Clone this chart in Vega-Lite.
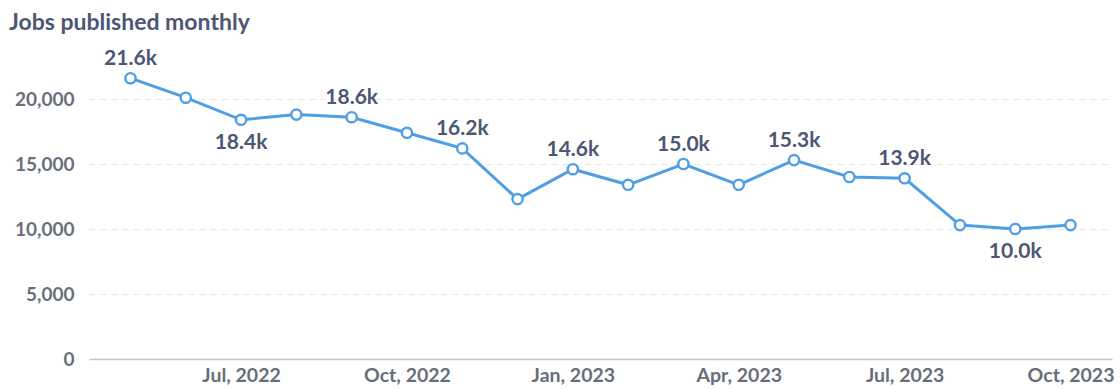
{
  "$schema": "https://vega.github.io/schema/vega-lite/v6.json",
  "width": 1023,
  "height": 300,
  "autosize": {"type": "none"},
  "padding": {"left": 89, "top": 59, "right": 8, "bottom": 33},
  "background": "white",
  "title": {
    "text": "Jobs published monthly",
    "anchor": "start",
    "frame": "group",
    "dx": -80,
    "offset": 13,
    "font": "Lato",
    "fontSize": 23,
    "fontWeight": "bold",
    "color": "#4C5773"
  },
  "config": {
    "view": {"stroke": null},
    "font": "Lato"
  },
  "data": {
    "values": [
      {"month": "May, 2022", "jobs": 21600},
      {"month": "Jun, 2022", "jobs": 20100},
      {"month": "Jul, 2022", "jobs": 18400},
      {"month": "Aug, 2022", "jobs": 18800},
      {"month": "Sep, 2022", "jobs": 18600},
      {"month": "Oct, 2022", "jobs": 17400},
      {"month": "Nov, 2022", "jobs": 16200},
      {"month": "Dec, 2022", "jobs": 12300},
      {"month": "Jan, 2023", "jobs": 14600},
      {"month": "Feb, 2023", "jobs": 13400},
      {"month": "Mar, 2023", "jobs": 15000},
      {"month": "Apr, 2023", "jobs": 13400},
      {"month": "May, 2023", "jobs": 15300},
      {"month": "Jun, 2023", "jobs": 14000},
      {"month": "Jul, 2023", "jobs": 13900},
      {"month": "Aug, 2023", "jobs": 10300},
      {"month": "Sep, 2023", "jobs": 10000},
      {"month": "Oct, 2023", "jobs": 10300}
    ]
  },
  "encoding": {
    "x": {
      "field": "month",
      "type": "ordinal",
      "sort": null,
      "scale": {"type": "point", "padding": 0.75},
      "axis": {
        "title": null,
        "labelAngle": 0,
        "ticks": false,
        "domainColor": "#C0C4CC",
        "domainWidth": 1.5,
        "labelExpr": "test(/^(Jan|Apr|Jul|Oct)/, datum.label) ? datum.label : ''",
        "labelFont": "Lato",
        "labelFontSize": 19.5,
        "labelFontWeight": "bold",
        "labelColor": "#696E7B",
        "labelPadding": 7
      }
    },
    "y": {
      "field": "jobs",
      "type": "quantitative",
      "scale": {"domain": [0, 23077], "nice": false},
      "axis": {
        "title": null,
        "values": [0, 5000, 10000, 15000, 20000],
        "format": ",.0f",
        "domain": false,
        "ticks": false,
        "grid": true,
        "gridDash": [6, 5],
        "gridColor": "#E4E6EA",
        "gridWidth": 1.2,
        "labelFont": "Lato",
        "labelFontSize": 19,
        "labelFontWeight": "bold",
        "labelColor": "#696E7B",
        "labelPadding": 15
      }
    }
  },
  "layer": [
    {
      "mark": {"type": "line", "color": "#509EE3", "strokeWidth": 3}
    },
    {
      "mark": {"type": "point", "filled": false, "fill": "white", "stroke": "#509EE3", "strokeWidth": 2.4, "size": 105, "opacity": 1}
    },
    {
      "transform": [
        {"filter": {"field": "month", "oneOf": ["May, 2022", "Sep, 2022", "Nov, 2022", "Jan, 2023", "Mar, 2023", "May, 2023", "Jul, 2023"]}}
      ],
      "mark": {"type": "text", "baseline": "bottom", "dy": -9, "font": "Lato", "fontSize": 21, "fontWeight": "bold", "color": "#4C5773"},
      "encoding": {"text": {"field": "jobs", "type": "quantitative", "format": ".3s"}}
    },
    {
      "transform": [
        {"filter": {"field": "month", "oneOf": ["Jul, 2022", "Sep, 2023"]}}
      ],
      "mark": {"type": "text", "baseline": "top", "dy": 12, "font": "Lato", "fontSize": 21, "fontWeight": "bold", "color": "#4C5773"},
      "encoding": {"text": {"field": "jobs", "type": "quantitative", "format": ".3s"}}
    }
  ]
}
